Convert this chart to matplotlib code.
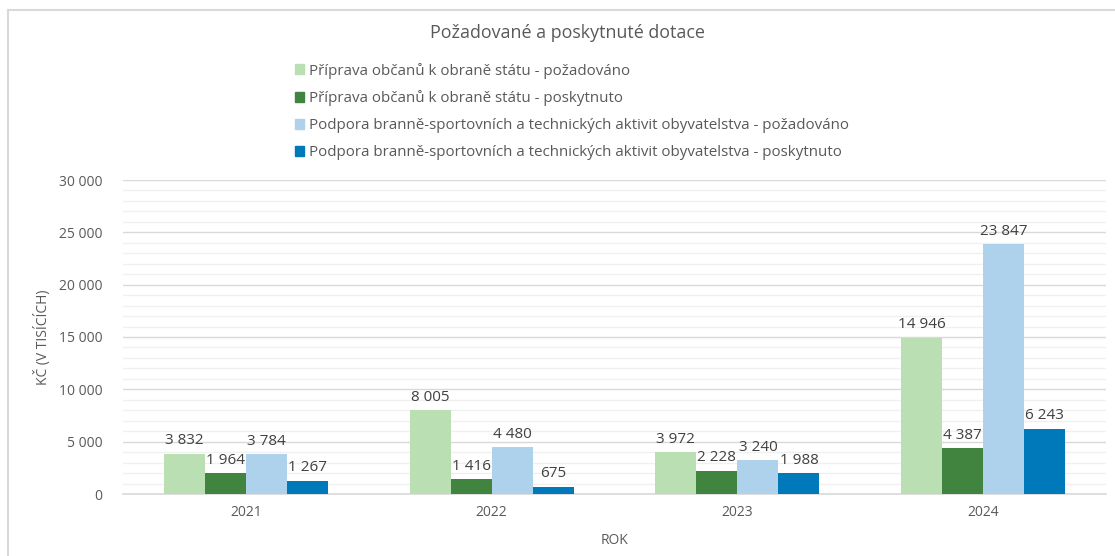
import matplotlib
matplotlib.use("Agg")
import matplotlib.pyplot as plt
from matplotlib.patches import Rectangle
from matplotlib.lines import Line2D
import numpy as np

plt.rcParams['font.family'] = ['Open Sans', 'DejaVu Sans']

years = ["2021", "2022", "2023", "2024"]
series_names = [
    "Příprava občanů k obraně státu - požadováno",
    "Příprava občanů k obraně státu - poskytnuto",
    "Podpora branně-sportovních a technických aktivit obyvatelstva - požadováno",
    "Podpora branně-sportovních a technických aktivit obyvatelstva - poskytnuto",
]
priprava_pozadovano = [3832, 8005, 3972, 14946]
priprava_poskytnuto = [1964, 1416, 2228, 4387]
podpora_pozadovano = [3784, 4480, 3240, 23847]
podpora_poskytnuto = [1267, 675, 1988, 6243]
colors = ["#b9dfb3", "#41843f", "#aed2ec", "#0079bb"]

series = [priprava_pozadovano, priprava_poskytnuto, podpora_pozadovano, podpora_poskytnuto]

W, H = 1115, 556
fig = plt.figure(figsize=(W / 100, H / 100), dpi=100)
fig.patch.set_facecolor("white")

# outer border (left and top)
fig.add_artist(Line2D([8 / W, 8 / W], [0, 1 - 10 / H], color="#d9d9d9", lw=1.5, transform=fig.transFigure))
fig.add_artist(Line2D([8 / W, 1], [1 - 10 / H, 1 - 10 / H], color="#d9d9d9", lw=1.5, transform=fig.transFigure))

left, right, top, bottom = 123, 1106, 180, 494
ax = fig.add_axes([left / W, 1 - bottom / H, (right - left) / W, (bottom - top) / H])

txt = "#595959"
bw = 0.167
x = np.arange(len(years))
for i, (vals, c) in enumerate(zip(series, colors)):
    pos = x + (i - 1.5) * bw
    ax.bar(pos, vals, width=bw, color=c, label=series_names[i], zorder=3)
    for p, v in zip(pos, vals):
        lab = f"{v:,}".replace(",", " ")
        ax.annotate(lab, (p, v), xytext=(0, 4), textcoords="offset points",
                    ha="center", va="bottom", fontsize=11, color="#404040", zorder=4)

ax.set_xlim(-0.5, 3.5)
ax.set_ylim(0, 30000)
ax.set_yticks(np.arange(0, 30001, 5000))
ax.set_yticks(np.arange(0, 30001, 1000), minor=True)
ax.set_yticklabels([f"{v:,}".replace(",", " ") for v in range(0, 30001, 5000)])
ax.grid(axis="y", which="major", color="#d9d9d9", lw=1, zorder=0)
ax.grid(axis="y", which="minor", color="#f0f0f0", lw=1, zorder=0)
ax.tick_params(axis="y", which="both", length=0, pad=15, labelsize=10, labelcolor=txt)
ax.set_xticks(x)
ax.set_xticklabels(years)
ax.tick_params(axis="x", length=0, pad=8, labelsize=10, labelcolor=txt)
for s in ["top", "right", "left"]:
    ax.spines[s].set_visible(False)
ax.spines["bottom"].set_color("#d9d9d9")
ax.spines["bottom"].set_linewidth(1.2)

ax.set_xlabel("ROK", fontsize=10, color=txt, labelpad=9)
fig.text(42 / W, 1 - 337 / H, "KČ (V TISÍCÍCH)", rotation=90, ha="center", va="center",
         fontsize=10, color=txt)

fig.text(567 / W, 1 - 33 / H, "Požadované a poskytnuté dotace", ha="center", va="center",
         fontsize=12.9, color=txt)

handles = [Rectangle((0, 0), 1, 1, color=c) for c in colors]
leg = fig.legend(handles, series_names, loc="upper left",
                 bbox_to_anchor=(287 / W, 1 - 55 / H), frameon=False,
                 fontsize=10.9, labelcolor=txt, handlelength=0.65, handleheight=0.65,
                 handletextpad=0.3, labelspacing=0.78, borderpad=0)

fig.savefig("out.png", dpi=100)
